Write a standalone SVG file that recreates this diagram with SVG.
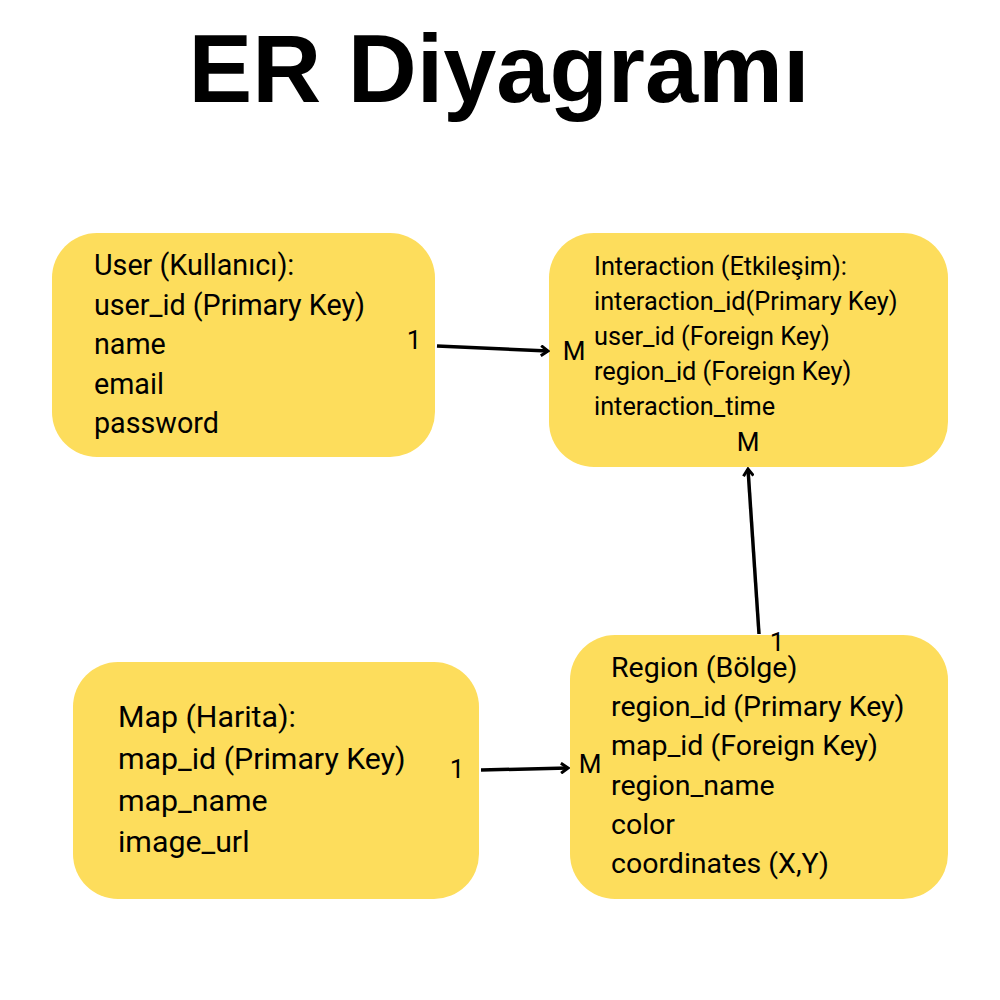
<svg xmlns="http://www.w3.org/2000/svg" width="1000" height="1000" viewBox="0 0 1000 1000">
<style>
.box{fill:#FDDD5C}
.t{font-family:Roboto,"Liberation Sans",sans-serif;fill:#000}
.lbl{font-size:26px}
.u{font-size:28.7px}
.sm{font-size:25.3px}
.mp{font-size:30.3px}
.rg{font-size:28.5px}
.title{font-family:"Liberation Sans",Arial,sans-serif;font-weight:bold;font-size:95.5px}
.conn{stroke:#000;stroke-width:3.5;fill:none;marker-end:url(#arr)}
</style>
<defs>
<marker id="arr" viewBox="0 0 12 12" refX="10" refY="6" markerWidth="12" markerHeight="12" markerUnits="userSpaceOnUse" orient="auto">
<path d="M3,1 L10,6 L3,11" fill="none" stroke="#000" stroke-width="3"/>
</marker>
</defs>
<rect width="1000" height="1000" fill="#fff"/>
<text class="title" x="499" y="102" text-anchor="middle">ER Diyagramı</text>
<g id="user">
<rect class="box" x="52" y="233" width="383" height="224" rx="45"/>
<text class="t u" x="94" y="275">User (Kullanıcı):</text>
<text class="t u" x="94" y="314.5">user_id (Primary Key)</text>
<text class="t u" x="94" y="354">name</text>
<text class="t u" x="94" y="393.5">email</text>
<text class="t u" x="94" y="433">password</text>
</g>
<g id="interaction">
<rect class="box" x="549" y="233" width="399" height="234" rx="45"/>
<text class="t sm" x="594" y="275">Interaction (Etkileşim):</text>
<text class="t sm" x="594" y="310">interaction_id(Primary Key)</text>
<text class="t sm" x="594" y="345">user_id (Foreign Key)</text>
<text class="t sm" x="594" y="380">region_id (Foreign Key)</text>
<text class="t sm" x="594" y="415">interaction_time</text>
</g>
<g id="map">
<rect class="box" x="73" y="662" width="406" height="237" rx="45"/>
<text class="t mp" x="118" y="727">Map (Harita):</text>
<text class="t mp" x="118" y="769">map_id (Primary Key)</text>
<text class="t mp" x="118" y="811">map_name</text>
<text class="t mp" x="118" y="852">image_url</text>
</g>
<g id="region">
<rect class="box" x="570" y="635" width="378" height="264" rx="45"/>
<text class="t rg" x="611" y="677">Region (Bölge)</text>
<text class="t rg" x="611" y="716">region_id (Primary Key)</text>
<text class="t rg" x="611" y="755">map_id (Foreign Key)</text>
<text class="t rg" x="611" y="795">region_name</text>
<text class="t rg" x="611" y="834">color</text>
<text class="t rg" x="611" y="873">coordinates (X,Y)</text>
</g>
<g id="connectors">
<path class="conn" d="M437,346 L548,351"/>
<path class="conn" d="M759,634 L748,469"/>
<path class="conn" d="M481,770 L568,768"/>
<text class="t lbl" x="414" y="349" text-anchor="middle">1</text>
<text class="t lbl" x="574" y="360" text-anchor="middle">M</text>
<text class="t lbl" x="748" y="451" text-anchor="middle">M</text>
<text class="t lbl" x="777" y="651" text-anchor="middle">1</text>
<text class="t lbl" x="457" y="778" text-anchor="middle">1</text>
<text class="t lbl" x="590" y="773" text-anchor="middle">M</text>
</g>
</svg>
